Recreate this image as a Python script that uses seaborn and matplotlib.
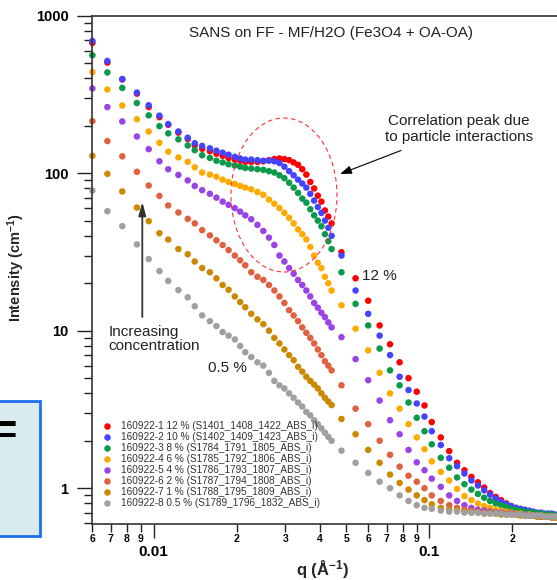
import numpy as np
import pandas as pd
import matplotlib
matplotlib.use("Agg")
import matplotlib.pyplot as plt
import matplotlib.ticker as mticker
from matplotlib.patches import Ellipse, Rectangle
import seaborn as sns

# ---------------- data ----------------
q = [0.0060, 0.0068, 0.0077, 0.0087, 0.0096, 0.0105, 0.0113, 0.0123, 0.0133, 0.0141,
     0.0150, 0.0160, 0.0169, 0.0178, 0.0187, 0.0197, 0.0206, 0.0215,
     0.0226, 0.0238, 0.0250, 0.0262, 0.0274, 0.0286, 0.0298, 0.0310, 0.0322, 0.0334,
     0.0346, 0.0358, 0.0370, 0.0382, 0.0394, 0.0406, 0.0418, 0.0430, 0.0442,
     0.048, 0.054, 0.060, 0.066, 0.072, 0.078, 0.084, 0.090, 0.096,
     0.102, 0.110, 0.118, 0.126, 0.134, 0.142, 0.150, 0.158, 0.166, 0.174, 0.182,
     0.190, 0.198, 0.206, 0.214, 0.222, 0.230, 0.238, 0.246, 0.254, 0.262, 0.270,
     0.278, 0.286]

i_12 = [671, 504, 394, 320, 263, 227, 203, 181, 165, 150, 143, 138, 133, 129, 125, 122, 120, 118,
        118, 118, 119, 121, 123, 124, 123, 121, 117, 113, 106, 98, 88, 80, 72, 66, 58, 53, 48,
        31.5, 21.5, 15.5, 10.8, 8.2, 6.3, 5.0, 4.1, 3.35,
        2.63, 2.1, 1.72, 1.45, 1.3, 1.18, 1.09, 1.01, 0.93, 0.88, 0.84, 0.80, 0.77, 0.75,
        0.73, 0.72, 0.71, 0.70, 0.69, 0.68, 0.68, 0.67, 0.67, 0.66]
i_10 = [691, 516, 396, 325, 270, 232, 205, 184, 168, 155, 149, 144, 139, 135, 131, 127, 124, 122,
        122, 121, 120, 120, 119, 116, 110, 103, 97, 91, 86, 81, 74, 67, 61, 56, 50, 45, 40,
        30, 18, 12.8, 9.3, 7.0, 5.1, 4.2, 3.45, 2.85,
        2.3, 1.88, 1.55, 1.38, 1.24, 1.12, 1.04, 0.97, 0.91, 0.86, 0.82, 0.79, 0.77, 0.75,
        0.74, 0.73, 0.72, 0.71, 0.70, 0.70, 0.69, 0.69, 0.69, 0.68]
i_8 = [561, 436, 348, 279, 233, 199, 179, 164, 150, 140, 130, 125, 120, 117, 114, 112, 110, 108,
       107, 106, 105, 103, 101, 97, 93, 87, 81, 75, 69, 65, 59, 54, 50, 46, 41, 37, 33,
       23.5, 14.8, 10.8, 7.7, 5.6, 4.5, 3.5, 2.8, 2.3,
       1.9, 1.56, 1.35, 1.17, 1.06, 0.98, 0.92, 0.87, 0.83, 0.80, 0.78, 0.76, 0.74, 0.73,
       0.72, 0.71, 0.70, 0.70, 0.69, 0.69, 0.68, 0.68, 0.68, 0.67]
i_6 = [439, 340, 269, 220, 184, 156, 137, 126, 118, 109, 101, 98, 95, 91, 88, 85.5, 83, 81,
       79, 76, 73, 68, 64, 60, 56, 52, 48, 44, 41, 38, 34, 30, 27, 25, 22, 20, 18,
       14.5, 10.3, 7.5, 5.4, 4.0, 3.2, 2.55, 2.1, 1.77,
       1.48, 1.27, 1.12, 0.99, 0.89, 0.84, 0.80, 0.77, 0.75, 0.73, 0.72, 0.71, 0.70, 0.69,
       0.69, 0.68, 0.68, 0.67, 0.67, 0.67, 0.66, 0.66, 0.66, 0.66]
i_4 = [345, 263, 213, 171, 142, 119, 106, 97.5, 90, 83, 78, 74, 70, 66, 63, 60, 57, 54,
       51, 47, 43, 39, 35, 30, 27.5, 25, 23, 21, 19.5, 18, 16.5, 15, 14, 13, 12.2, 11.3, 10.5,
       9.1, 6.6, 4.85, 3.6, 2.7, 2.2, 1.75, 1.46, 1.3,
       1.15, 1.02, 0.90, 0.83, 0.78, 0.75, 0.73, 0.72, 0.71, 0.70, 0.70, 0.69, 0.69, 0.68,
       0.68, 0.68, 0.67, 0.67, 0.67, 0.66, 0.66, 0.66, 0.66, 0.66]
i_2 = [214, 160, 128, 102, 83.5, 71.8, 62.4, 56.3, 51.3, 48, 43.5, 40.3, 37.5, 35, 32.5, 30, 28, 26,
       23.5, 22, 21, 19.5, 18, 16.5, 15, 13.5, 12.5, 11.5, 10.5, 9.7, 9, 8.3, 7.6, 7, 6.4, 6, 5.6,
       4.5, 3.2, 2.55, 2.0, 1.63, 1.37, 1.2, 1.1, 1.0,
       0.90, 0.83, 0.78, 0.75, 0.73, 0.72, 0.71, 0.70, 0.70, 0.69, 0.69, 0.69, 0.68, 0.68,
       0.68, 0.67, 0.67, 0.67, 0.66, 0.66, 0.66, 0.66, 0.65, 0.65]
i_1 = [129, 99, 76.6, 60.5, 49.6, 41.6, 37.9, 33, 30.6, 27.5, 25, 23.5, 21.5, 19.5, 18.2, 16.5, 15.2, 14.1,
       12.8, 11.8, 11, 10, 9, 8.3, 7.6, 7, 6.5, 5.9, 5.5, 5.1, 4.8, 4.55, 4.3, 4.0, 3.75, 3.55, 3.37,
       2.75, 2.2, 1.75, 1.45, 1.22, 1.08, 0.98, 0.90, 0.84,
       0.79, 0.75, 0.73, 0.72, 0.71, 0.70, 0.70, 0.69, 0.69, 0.69, 0.68, 0.68, 0.68, 0.68,
       0.67, 0.67, 0.67, 0.67, 0.66, 0.66, 0.66, 0.66, 0.66, 0.65]
i_05 = [77.6, 57.4, 46.1, 35.3, 28.5, 23.9, 20.7, 18.1, 16.3, 14.3, 12.5, 11.5, 10.7, 9.8, 9.3, 8.8, 8.0, 7.3,
        6.8, 6.3, 6.0, 5.4, 4.8, 4.5, 4.3, 4.0, 3.75, 3.5, 3.3, 3.05, 2.9, 2.7, 2.55, 2.4, 2.25, 2.12, 2.0,
        1.73, 1.45, 1.25, 1.1, 1.0, 0.90, 0.83, 0.78, 0.75,
        0.74, 0.72, 0.71, 0.71, 0.70, 0.70, 0.70, 0.69, 0.69, 0.69, 0.69, 0.68, 0.68, 0.68,
        0.68, 0.67, 0.67, 0.67, 0.67, 0.67, 0.66, 0.66, 0.66, 0.66]

labels = ["160922-1 12 % (S1401_1408_1422_ABS_i)",
          "160922-2 10 % (S1402_1409_1423_ABS_i)",
          "160922-3 8 % (S1784_1791_1805_ABS_i)",
          "160922-4 6 % (S1785_1792_1806_ABS_i)",
          "160922-5 4 % (S1786_1793_1807_ABS_i)",
          "160922-6 2 % (S1787_1794_1808_ABS_i)",
          "160922-7 1 % (S1788_1795_1809_ABS_i)",
          "160922-8 0.5 % (S1789_1796_1832_ABS_i)"]
colors = ["#FF0000", "#4444FF", "#0A9A4A", "#FFAA00", "#9A44E6", "#E0603F", "#CC8800", "#A0A0A0"]
series = [i_12, i_10, i_8, i_6, i_4, i_2, i_1, i_05]

# ---------------- style ----------------
sns.set_style("white")
plt.rcParams["font.family"] = ["Liberation Sans", "DejaVu Sans"]
plt.rcParams["mathtext.fontset"] = "custom"
plt.rcParams["mathtext.rm"] = "Liberation Sans:bold"
plt.rcParams["mathtext.it"] = "Liberation Sans:bold"
plt.rcParams["mathtext.bf"] = "Liberation Sans:bold"
plt.rcParams["mathtext.default"] = "rm"

W, H = 557, 580
fig = plt.figure(figsize=(W / 100, H / 100), dpi=100)


def fx(x):
    return x / W


def fy(y):
    return 1 - y / H


ax = fig.add_axes([fx(92), fy(524), fx(557) - fx(92), fy(15.7) - fy(524)])

df = pd.concat([pd.DataFrame({"q": q, "I": v, "sample": lab}) for lab, v in zip(labels, series)],
               ignore_index=True)
sns.scatterplot(data=df, x="q", y="I", hue="sample", hue_order=labels, palette=colors,
                s=22, linewidth=0, ax=ax, clip_on=False, legend=True)

ax.set_xscale("log")
ax.set_yscale("log")
ax.set_xlim(0.00598, 0.2902)
ax.set_ylim(0.5925, 1000)

ax.xaxis.set_major_locator(mticker.LogLocator(base=10, numticks=10))
ax.xaxis.set_minor_locator(mticker.LogLocator(base=10, subs=np.arange(2, 10), numticks=20))
ax.yaxis.set_major_locator(mticker.LogLocator(base=10, numticks=10))
ax.yaxis.set_minor_locator(mticker.LogLocator(base=10, subs=np.arange(2, 10), numticks=20))


def minor_fmt(v, pos):
    d = v / 10 ** np.floor(np.log10(v) + 1e-9)
    return f"{int(round(d))}"


ax.xaxis.set_major_formatter(mticker.FuncFormatter(lambda v, p: f"{v:g}"))
ax.xaxis.set_minor_formatter(mticker.FuncFormatter(minor_fmt))
ax.yaxis.set_major_formatter(mticker.FuncFormatter(lambda v, p: f"{v:g}"))
ax.yaxis.set_minor_formatter(mticker.NullFormatter())

ax.tick_params(axis="x", which="major", direction="out", length=10, width=1, pad=5,
               labelsize=11, bottom=True, colors="#222222", labelcolor="black")
ax.tick_params(axis="x", which="minor", direction="out", length=6, width=1, pad=1,
               labelsize=7.5, bottom=True, colors="#222222", labelcolor="black")
ax.tick_params(axis="y", which="major", direction="out", length=11, width=1, pad=6,
               labelsize=10.5, left=True, colors="#222222", labelcolor="black")
ax.tick_params(axis="y", which="minor", direction="out", length=6, width=1, left=True,
               colors="#222222")
for t in ax.get_xticklabels(which="both") + ax.get_yticklabels():
    t.set_fontweight("bold")

for side in ["left", "bottom", "top"]:
    ax.spines[side].set_color("#333333")
    ax.spines[side].set_linewidth(1.2)
ax.spines["right"].set_visible(False)

ax.set_xlabel("q (Å$^{-1}$)", fontsize=12, fontweight="bold")
ax.xaxis.label.set_va("center")
ax.xaxis.set_label_coords((322 - 92) / 465, (524 - 570) / 508.3)
ax.set_ylabel("Intensity (cm$^{-1}$)", fontsize=10.5, fontweight="bold")
ax.yaxis.label.set_va("center")
ax.yaxis.set_label_coords((16 - 92) / 465, (524 - 268) / 508.3)

# legend
old = ax.get_legend()
handles = old.legend_handles
old.remove()
leg = ax.legend(handles, labels, loc="upper left", bbox_to_anchor=(fx(101.8), fy(421)),
                bbox_transform=fig.transFigure, frameon=False, fontsize=7.2,
                handlelength=1.0, handletextpad=0.9, labelspacing=0.1,
                borderpad=0, borderaxespad=0)
for t in leg.get_texts():
    t.set_color("#333333")

# texts & annotations
fig.text(fx(189), fy(33), "SANS on FF - MF/H2O (Fe3O4 + OA-OA)", fontsize=11,
         ha="left", va="center", color="#222222")
fig.text(fx(459), fy(129), "Correlation peak due\nto particle interactions", fontsize=11,
         ha="center", va="center", linespacing=1.12, color="#222222")
fig.text(fx(361.5), fy(276), "12 %", fontsize=11, ha="left", va="center", color="#222222")
fig.text(fx(208.5), fy(368), "0.5 %", fontsize=11, ha="left", va="center", color="#222222")
fig.text(fx(108.5), fy(339), "Increasing\nconcentration", fontsize=11, ha="left",
         va="center", linespacing=1.08, color="#222222")

ax.annotate("", xy=(fx(340), fy(174)), xycoords="figure fraction",
            xytext=(fx(401), fy(150.5)), textcoords="figure fraction",
            arrowprops=dict(arrowstyle="-|>,head_length=0.7,head_width=0.25", color="black",
                            lw=0.8, shrinkA=0, shrinkB=0), annotation_clip=False)
ax.annotate("", xy=(fx(142.3), fy(202)), xycoords="figure fraction",
            xytext=(fx(142.3), fy(317)), textcoords="figure fraction",
            arrowprops=dict(arrowstyle="-|>,head_length=0.8,head_width=0.22", color="#333333",
                            lw=1.3, shrinkA=0, shrinkB=0), annotation_clip=False)

ell = Ellipse((fx(284), fy(195)), 106 / W, 154 / H, transform=fig.transFigure, fill=False,
              edgecolor="#FF3030", linestyle=(0, (4, 3)), lw=0.8)
fig.add_artist(ell)

# cut-off box at the left edge
box = Rectangle((fx(-5), fy(536)), 45 / W, 135 / H, transform=fig.transFigure,
                facecolor="#DAEBEF", edgecolor="#1E6EF0", lw=2)
fig.add_artist(box)
fig.text(fx(17), fy(433), "=", fontsize=30, fontweight="bold", ha="right", va="center",
         color="black")

fig.savefig("out.png", dpi=100)
